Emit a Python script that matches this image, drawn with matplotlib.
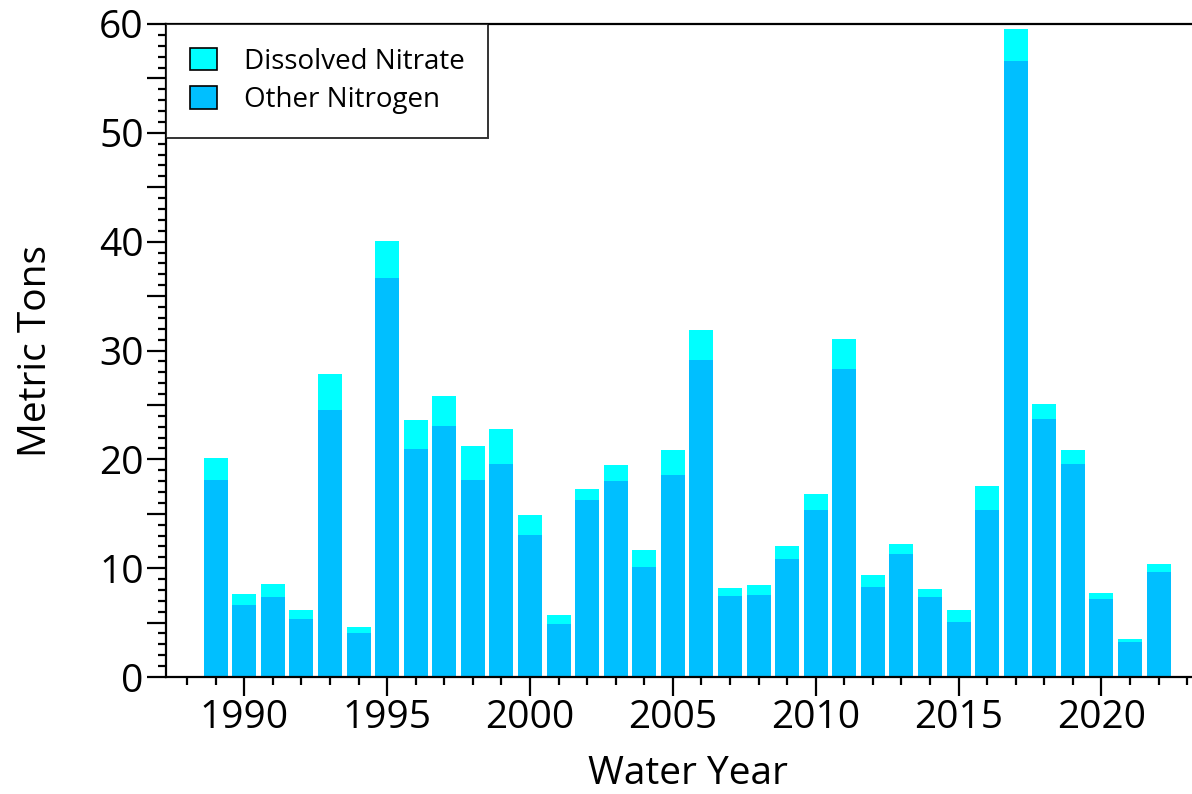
import matplotlib
matplotlib.use("Agg")
import matplotlib.pyplot as plt
from matplotlib.ticker import MultipleLocator, FuncFormatter
from matplotlib.patches import Patch

years = list(range(1989, 2023))
other_nitrogen = [18.1, 6.6, 7.35, 5.33, 24.5, 4.04, 36.7, 20.95, 23.06, 18.1,
                  19.57, 13.05, 4.87, 16.26, 18.01, 10.11, 18.56, 29.13, 7.44, 7.53,
                  10.84, 15.35, 28.3, 8.27, 11.3, 7.35, 5.05, 15.35, 56.6, 23.71,
                  19.57, 7.17, 3.22, 9.65]
total_nitrogen = [20.12, 7.63, 8.55, 6.16, 27.84, 4.59, 40.06, 23.6, 25.8, 21.2,
                  22.79, 14.89, 5.7, 17.27, 19.48, 11.67, 20.86, 31.88, 8.18, 8.45,
                  12.04, 16.82, 31.06, 9.37, 12.22, 8.09, 6.16, 17.55, 59.54, 25.08,
                  20.86, 7.72, 3.49, 10.38]
dissolved_nitrate = [t - o for t, o in zip(total_nitrogen, other_nitrogen)]

c_other = "#00BFFF"
c_nitrate = "#00FFFF"

plt.rcParams['font.family'] = ['Open Sans', 'DejaVu Sans']

fig = plt.figure(figsize=(11.92, 7.94), dpi=100)
ax = fig.add_axes([166 / 1192, 1 - 677 / 794, (1210 - 166) / 1192, (677 - 24) / 794])

ax.bar(years, other_nitrogen, width=0.84, color=c_other, linewidth=0)
ax.bar(years, dissolved_nitrate, bottom=other_nitrogen, width=0.84, color=c_nitrate, linewidth=0)

ax.set_xlim(1987.26, 2023.8)
ax.set_ylim(0, 60)

ax.spines['right'].set_visible(False)
for s in ['left', 'bottom', 'top']:
    ax.spines[s].set_linewidth(1.6)
    ax.spines[s].set_color('black')

ax.yaxis.set_major_locator(MultipleLocator(5))
ax.yaxis.set_minor_locator(MultipleLocator(1))
ax.yaxis.set_major_formatter(FuncFormatter(lambda v, p: f"{int(v)}" if int(round(v)) % 10 == 0 else ""))
ax.xaxis.set_major_locator(MultipleLocator(5))
ax.xaxis.set_minor_locator(MultipleLocator(1))

ax.tick_params(axis='both', which='major', length=14, width=1.6, direction='out',
               labelsize=28, pad=2)
ax.tick_params(axis='both', which='minor', length=6, width=1.6, direction='out')
ax.tick_params(top=False, right=False, which='both')

ax.set_xlabel("Water Year", fontsize=28, labelpad=13)
ax.set_ylabel("Metric Tons", fontsize=28, labelpad=32)

handles = [Patch(facecolor=c_nitrate, edgecolor='black', linewidth=1.2, label='Dissolved Nitrate'),
           Patch(facecolor=c_other, edgecolor='black', linewidth=1.2, label='Other Nitrogen')]
leg = ax.legend(handles=handles, loc='upper left', bbox_to_anchor=(0, 1),
                borderaxespad=0, fontsize=20, frameon=True, fancybox=False,
                handlelength=1.0, handleheight=0.85, handletextpad=0.95,
                borderpad=0.85, labelspacing=0.38)
leg.get_frame().set_edgecolor('black')
leg.get_frame().set_linewidth(1.4)

fig.savefig("out.png", dpi=100)
